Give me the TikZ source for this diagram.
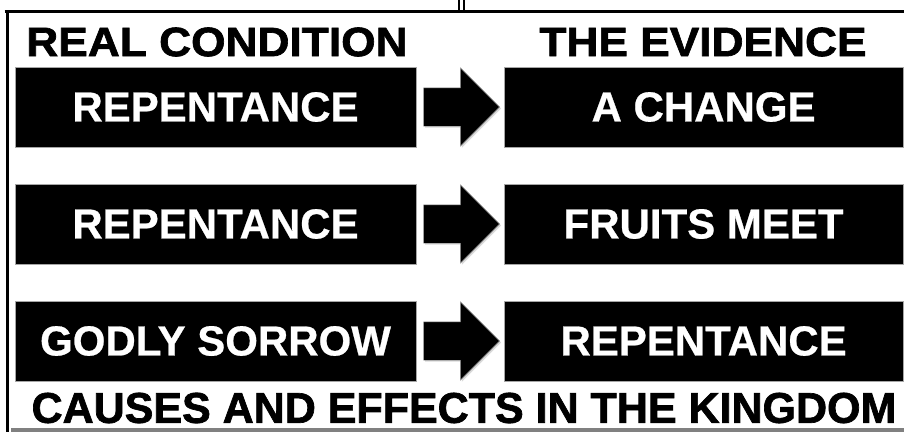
\documentclass[tikz,border=0pt]{standalone}
\usepackage{fontspec}
\setmainfont{Liberation Sans}
\newfontfamily\headfont{Liberation Sans Bold}[FakeBold=1.6,FakeStretch=1.08]
\newfontfamily\footfont{Liberation Sans Bold}[FakeBold=1.6]
\newfontfamily\boxfont{Liberation Sans Bold}[FakeBold=0.6]
\usetikzlibrary{positioning,shapes.arrows,shadows}
\tikzset{
  frameline/.style={line width=3pt},
  condbox/.style={fill=black,draw=black!35,line width=0.6pt,
    minimum width=401pt,minimum height=80pt,inner sep=0pt,text=white,
    font=\boxfont\fontsize{42}{42}\selectfont},
  evbox/.style={condbox,minimum width=399pt},
  causearrow/.style={single arrow,fill=black,draw=black!40,line width=0.4pt,
    minimum height=76pt,minimum width=78pt,single arrow head extend=20pt,
    single arrow tip angle=90,single arrow head indent=0pt,
    inner xsep=0pt,inner ysep=19pt,
    drop shadow={opacity=0.3,shadow xshift=1.5pt,shadow yshift=-1.5pt}},
  headlbl/.style={font=\headfont\fontsize{41}{41}\selectfont,inner sep=0pt},
  footlbl/.style={font=\footfont\fontsize{43}{43}\selectfont,inner sep=0pt},
}
\begin{document}
\begin{tikzpicture}[x=1pt,y=-1pt]
  \useasboundingbox (0,0) rectangle (904,432);
  % frame
  \draw[frameline] (4.5,11.5) -- (904,11.5);
  \draw[frameline] (7.5,10) -- (7.5,432);
  \draw[line width=2pt] (459,0) -- (459,10) (464,0) -- (464,10);
  \draw[line width=4pt,black!50] (11,430) -- (904,430);
  % headings
  \node[headlbl] (hcond) at (217,42) {REAL CONDITION};
  \node[headlbl] (hev) at (703,42) {THE EVIDENCE};
  % rows
  \node[condbox] (c1) at (215.5,107) {REPENTANCE};
  \node[causearrow,right=7pt of c1] (a1) {};
  \node[evbox,right=4pt of a1] (e1) {A CHANGE};
  \node[condbox] (c2) at (215.5,224) {REPENTANCE};
  \node[causearrow,right=7pt of c2] (a2) {};
  \node[evbox,right=4pt of a2] (e2) {FRUITS MEET};
  \node[condbox] (c3) at (215.5,341) {GODLY SORROW};
  \node[causearrow,right=7pt of c3] (a3) {};
  \node[evbox,right=4pt of a3] (e3) {REPENTANCE};
  % footer
  \node[footlbl] (foot) at (464,408) {CAUSES AND EFFECTS IN THE KINGDOM};
\end{tikzpicture}
\end{document}
